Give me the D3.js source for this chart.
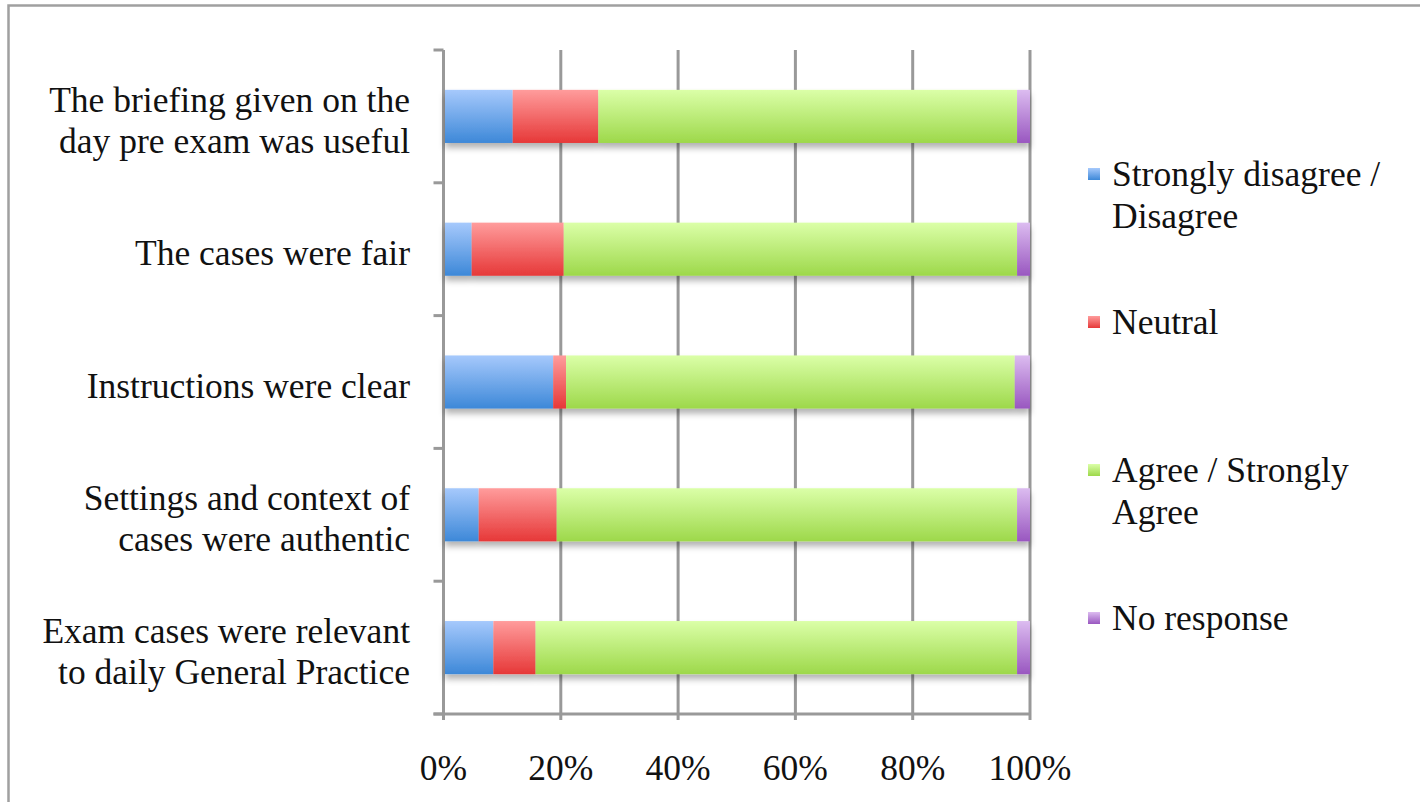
<!DOCTYPE html>
<html>
<head>
<meta charset="utf-8">
<script src="https://cdn.jsdelivr.net/npm/d3@7"></script>
<style>
  body { margin: 0; background: #fff; }
  svg { display: block; }
  text { font-family: "Liberation Serif", "DejaVu Serif", serif; fill: #111; }
</style>
</head>
<body>
<div id="chart"></div>
<script>
// survey items, top to bottom
var categories = [
	"The briefing given on the|day pre exam was useful",
	"The cases were fair",
	"Instructions were clear",
	"Settings and context of|cases were authentic",
	"Exam cases were relevant|to daily General Practice"
];
var seriesNames = ["Strongly disagree / Disagree", "Neutral", "Agree / Strongly Agree", "No response"];
var legendLabels = [["Strongly disagree /", "Disagree"], ["Neutral"], ["Agree / Strongly", "Agree"], ["No response"]];
var disagree = [11.8, 4.8, 18.7, 6.0, 8.5];
var neutral  = [14.6, 15.7, 2.2, 13.3, 7.2];
var agree    = [71.4, 77.3, 76.5, 78.5, 82.1];
var noResp   = [2.2, 2.2, 2.6, 2.2, 2.2];
var xTicks = [0, 20, 40, 60, 80, 100];

// gradient colours: top (light) -> bottom (dark)
var colors = [
	["#a6c9fc", "#3d88d8"],
	["#ff9c9c", "#e63838"],
	["#dbffa8", "#9dd84a"],
	["#dcbcf0", "#9957c0"]
];

var W = 1420, H = 802;
var svg = d3.select("#chart").append("svg")
	.attr("width", W)
	.attr("height", H);

var defs = svg.append("defs");
colors.forEach(function (c, i) {
	var g = defs.append("linearGradient")
		.attr("id", "grad" + i)
		.attr("x1", "0%").attr("x2", "0%")
		.attr("y1", "0%").attr("y2", "100%");
	g.append("stop").attr("offset", "0%").attr("stop-color", c[0]);
	g.append("stop").attr("offset", "100%").attr("stop-color", c[1]);
});
var shadow = defs.append("filter").attr("id", "shadow")
	.attr("x", "-5%").attr("y", "-20%").attr("width", "110%").attr("height", "160%");
shadow.append("feDropShadow")
	.attr("dx", 0).attr("dy", 5)
	.attr("stdDeviation", 3)
	.attr("flood-color", "#000")
	.attr("flood-opacity", 0.3);

// outer frame
svg.append("path")
	.attr("d", "M8.5,802 L8.5,5.5 L1420,5.5")
	.attr("fill", "none")
	.attr("stroke", "#a0a0a0")
	.attr("stroke-width", 2.5);

var x0 = 443.5, x1 = 1030, yTop = 50, yBot = 714;
var x = d3.scaleLinear().domain([0, 100]).range([x0, x1]);
var y = d3.scaleBand().domain(categories).range([yTop, yBot]).paddingInner(0.6).paddingOuter(0.3);
var yb = d3.scaleBand().domain(categories).range([yTop, yBot]);

var gridColor = "#999";
// vertical gridlines
svg.append("g").selectAll("line").data(xTicks).enter().append("line")
	.attr("x1", function (d) { return x(d); })
	.attr("x2", function (d) { return x(d); })
	.attr("y1", yTop)
	.attr("y2", yBot + 6)
	.attr("stroke", gridColor)
	.attr("stroke-width", 3);

// y axis ticks (band boundaries)
var bounds = categories.map(function (c) { return yb(c); }).concat([yBot]);
svg.append("g").selectAll("line").data(bounds).enter().append("line")
	.attr("x1", x0 - 10)
	.attr("x2", x0)
	.attr("y1", function (d) { return d; })
	.attr("y2", function (d) { return d; })
	.attr("stroke", gridColor)
	.attr("stroke-width", 3);
// x axis line
svg.append("line")
	.attr("x1", x0 - 10).attr("x2", x1)
	.attr("y1", yBot).attr("y2", yBot)
	.attr("stroke", gridColor)
	.attr("stroke-width", 3);

// data table for stacking
var rows = categories.map(function (c, i) {
	var r = { cat: c };
	r[seriesNames[0]] = disagree[i];
	r[seriesNames[1]] = neutral[i];
	r[seriesNames[2]] = agree[i];
	r[seriesNames[3]] = noResp[i];
	return r;
});
var stacked = d3.stack().keys(seriesNames)(rows);

// one group per bar so the shadow sits under the whole bar
var barG = svg.append("g").selectAll("g.bar").data(rows).enter().append("g")
	.attr("class", "bar")
	.attr("filter", "url(#shadow)");
barG.each(function (row, i) {
	var g = d3.select(this);
	stacked.forEach(function (s, k) {
		var d = s[i];
		g.append("rect")
			.attr("x", x(d[0]) + (k == 0 ? 1.5 : 0))
			.attr("y", y(row.cat))
			.attr("width", x(d[1]) - x(d[0]) - (k == 0 ? 1.5 : 0))
			.attr("height", y.bandwidth())
			.attr("fill", "url(#grad" + k + ")");
	});
});

// category labels
var fontSize = 35.5;
svg.append("g").selectAll("text").data(categories).enter().append("text")
	.attr("text-anchor", "end")
	.attr("font-size", fontSize)
	.each(function (c) {
		var lines = c.split("|");
		var cy = yb(c) + yb.bandwidth() / 2;
		var lh = 41;
		var t = d3.select(this);
		lines.forEach(function (ln, j) {
			t.append("tspan")
				.attr("x", 410)
				.attr("y", cy + 16 + (j - (lines.length - 1) / 2) * lh)
				.text(ln);
		});
	});

// x tick labels
svg.append("g").selectAll("text").data(xTicks).enter().append("text")
	.attr("x", function (d) { return x(d); })
	.attr("y", 780)
	.attr("text-anchor", "middle")
	.attr("font-size", fontSize)
	.text(function (d) { return d + "%"; });

// legend
var legendY = [174, 322, 470, 618];
var leg = svg.append("g").selectAll("g").data(seriesNames).enter().append("g");
leg.append("rect")
	.attr("x", 1088)
	.attr("y", function (d, i) { return legendY[i] - 6; })
	.attr("width", 12)
	.attr("height", 12)
	.attr("fill", function (d, i) { return "url(#grad" + i + ")"; });
leg.append("text")
	.attr("font-size", fontSize)
	.each(function (d, i) {
		var t = d3.select(this);
		legendLabels[i].forEach(function (ln, j) {
			t.append("tspan")
				.attr("x", 1112)
				.attr("y", legendY[i] + 12 + j * 42)
				.text(ln);
		});
	});
</script>
</body>
</html>
